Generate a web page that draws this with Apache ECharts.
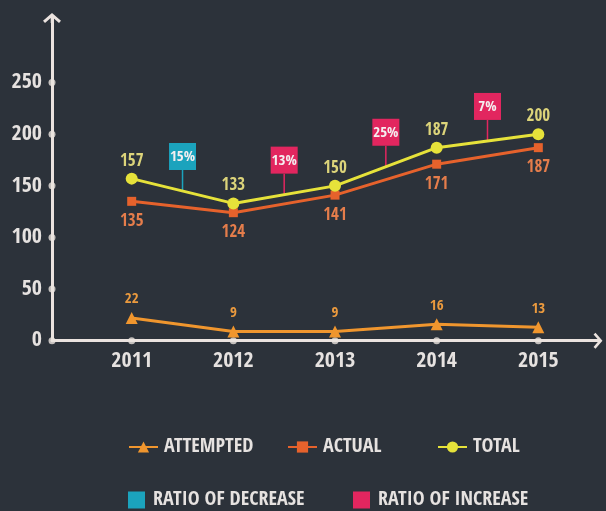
<!DOCTYPE html>
<html>
<head>
<meta charset="utf-8">
<script src="https://cdn.jsdelivr.net/npm/echarts@6/dist/echarts.min.js"></script>
<style>
html,body{margin:0;padding:0;background:#2c323a;}
#c{width:606px;height:511px;}
</style>
</head>
<body>
<div id="c"></div>
<script>
var years = [2011, 2012, 2013, 2014, 2015];
var attempted = [22, 9, 9, 16, 13];
var actual = [135, 124, 141, 171, 187];
var total = [157, 133, 150, 187, 200];
var yTicks = [0, 50, 100, 150, 200, 250];
var ratioLabels = ['15%', '13%', '25%', '7%'];
var ratioKinds = ['decrease', 'increase', 'increase', 'increase'];

var FONT = '"Open Sans Condensed", "Roboto Condensed", sans-serif';
var AXIS = '#ebe3df';
var TEXT = '#e6e2e0';
var C_ATT = '#f0962e', C_ACT = '#e6622c', C_TOT = '#e6e23a';
var C_DEC = '#1ba3bd', C_INC = '#e2265f';

var xMin = 2010.216, xMax = 2015.587;
var yMin = 0, yMax = 312.6;

function pairs(vals) { return years.map(function (y, i) { return [y, vals[i]]; }); }

function ratioData(kind) {
  var out = [];
  for (var i = 0; i < ratioLabels.length; i++) {
    if (ratioKinds[i] !== kind) continue;
    out.push([(years[i] + years[i + 1]) / 2, (total[i] + total[i + 1]) / 2, ratioLabels[i]]);
  }
  return out;
}

function ratioRender(color) {
  return function (params, api) {
    var p = api.coord([api.value(0), api.value(1)]);
    var label = api.value(2);
    var stem = 21, box = 27;
    return {
      type: 'group',
      children: [
        { type: 'line', shape: { x1: p[0], y1: p[1], x2: p[0], y2: p[1] - stem }, style: { stroke: color, lineWidth: 1.5 } },
        { type: 'rect', shape: { x: p[0] - box / 2, y: p[1] - stem - box, width: box, height: box }, style: { fill: color } },
        { type: 'text', style: { text: label, x: p[0], y: p[1] - stem - box / 2 + 1, align: 'center', verticalAlign: 'middle', fill: '#f4eef0', font: 'bold 15px ' + FONT } }
      ]
    };
  };
}

var arrow = 'path://M9,0L18,7.8L16,10L10.3,5L10.3,10L7.7,10L7.7,5L2,10L0,7.8Z';

var legendText = { color: TEXT, fontFamily: FONT, fontWeight: 'bold', fontSize: 20, padding: [0, 0, 0, 1] };

var chart = echarts.init(document.getElementById('c'));
chart.setOption({
  backgroundColor: '#2c323a',
  animation: false,
  grid: { left: 52, right: 8, top: 18, bottom: 170.3 },
  xAxis: {
    type: 'value', min: xMin, max: xMax,
    axisLine: { show: true, lineStyle: { color: AXIS, width: 3 }, symbol: ['none', arrow], symbolSize: [16, 10] },
    axisTick: { show: false },
    splitLine: { show: false },
    axisLabel: { customValues: years, formatter: function (v) { return String(Math.round(v)); }, color: TEXT, fontFamily: FONT, fontWeight: 'bold', fontSize: 22, margin: 10 }
  },
  yAxis: {
    type: 'value', min: yMin, max: yMax,
    axisLine: { show: true, lineStyle: { color: AXIS, width: 3 }, symbol: ['none', arrow], symbolSize: [18, 10] },
    axisTick: { show: false },
    splitLine: { show: false },
    axisLabel: { customValues: yTicks, color: TEXT, fontFamily: FONT, fontWeight: 'bold', fontSize: 22, margin: 10 }
  },
  legend: [
    { data: ['ATTEMPTED'], left: 123, top: 432, itemWidth: 29, itemHeight: 14, textStyle: legendText },
    { data: ['ACTUAL'], left: 282, top: 432, itemWidth: 29, itemHeight: 14, textStyle: legendText },
    { data: ['TOTAL'], left: 432, top: 432, itemWidth: 29, itemHeight: 14, textStyle: legendText },
    { data: [{ name: 'RATIO OF DECREASE', icon: 'rect' }], left: 123, top: 485, itemWidth: 17, itemHeight: 17, textStyle: { color: TEXT, fontFamily: FONT, fontWeight: 'bold', fontSize: 20, padding: [0, 0, 0, 3] } },
    { data: [{ name: 'RATIO OF INCREASE', icon: 'rect' }], left: 348, top: 485, itemWidth: 17, itemHeight: 17, textStyle: { color: TEXT, fontFamily: FONT, fontWeight: 'bold', fontSize: 20, padding: [0, 0, 0, 3] } }
  ],
  series: [
    {
      name: 'axisDotsY', type: 'scatter', silent: true, clip: false, z: 5,
      data: yTicks.map(function (v) { return [xMin, v]; }),
      symbol: 'circle', symbolSize: 7, itemStyle: { color: AXIS }
    },
    {
      name: 'axisDotsX', type: 'scatter', silent: true, clip: false, z: 5,
      data: years.map(function (y) { return [y, 0]; }),
      symbol: 'circle', symbolSize: 7, itemStyle: { color: AXIS }
    },
    {
      name: 'ATTEMPTED', type: 'line', data: pairs(attempted), z: 6,
      symbol: 'triangle', symbolSize: 12,
      lineStyle: { color: C_ATT, width: 3 }, itemStyle: { color: C_ATT },
      label: { show: true, position: 'top', distance: 5, color: '#eb9a3e', fontFamily: FONT, fontWeight: 'bold', fontSize: 15 }
    },
    {
      name: 'ACTUAL', type: 'line', data: pairs(actual), z: 6,
      symbol: 'rect', symbolSize: 9,
      lineStyle: { color: C_ACT, width: 3 }, itemStyle: { color: C_ACT },
      label: { show: true, position: 'bottom', distance: 7, color: '#e57d4b', fontFamily: FONT, fontWeight: 'bold', fontSize: 17 }
    },
    {
      name: 'TOTAL', type: 'line', data: pairs(total), z: 7,
      symbol: 'circle', symbolSize: 12,
      lineStyle: { color: C_TOT, width: 3 }, itemStyle: { color: C_TOT },
      label: { show: true, position: 'top', distance: 3, color: '#dcd47a', fontFamily: FONT, fontWeight: 'bold', fontSize: 17 }
    },
    {
      name: 'RATIO OF DECREASE', type: 'custom', z: 4, clip: false,
      itemStyle: { color: C_DEC },
      data: ratioData('decrease'), renderItem: ratioRender(C_DEC)
    },
    {
      name: 'RATIO OF INCREASE', type: 'custom', z: 4, clip: false,
      itemStyle: { color: C_INC },
      data: ratioData('increase'), renderItem: ratioRender(C_INC)
    }
  ]
});
</script>
</body>
</html>
